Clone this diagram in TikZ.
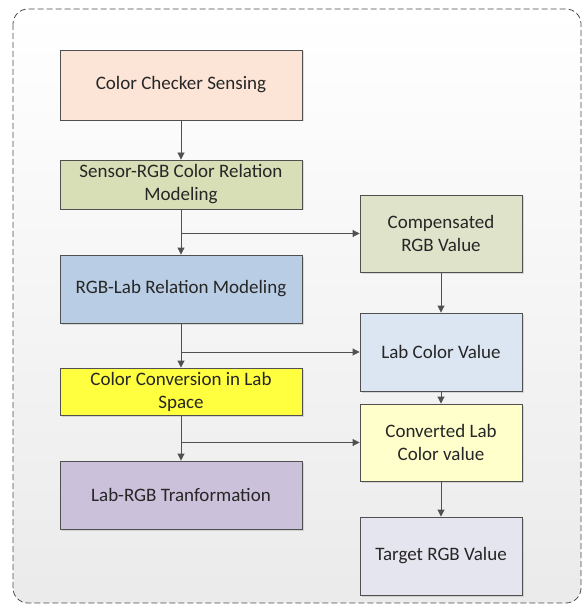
\documentclass[tikz,border=0pt]{standalone}
\usepackage{fontspec}
\setmainfont{Carlito}
\usetikzlibrary{arrows.meta,shadows,calc}
\definecolor{cA}{HTML}{FCE4D6}
\definecolor{cB}{HTML}{D8DFB6}
\definecolor{cC}{HTML}{B9CDE5}
\definecolor{cD}{HTML}{FFFF3F}
\definecolor{cE}{HTML}{CCC1DA}
\definecolor{rA}{HTML}{DFE3CA}
\definecolor{rB}{HTML}{DCE6F2}
\definecolor{rC}{HTML}{FFFFCC}
\definecolor{rD}{HTML}{E5E5F0}
\definecolor{edge}{HTML}{505050}
\tikzset{
  procbox/.style={draw=edge, line width=0.9pt, align=center, inner sep=2pt,
    font=\fontsize{19}{23}\selectfont, text=black!85,
    drop shadow={shadow xshift=1.5pt, shadow yshift=-1.5pt, opacity=0.25}},
  leftbox/.style={procbox, minimum width=242pt},
  rightbox/.style={procbox, minimum width=162pt},
  flow/.style={draw=edge, line width=0.9pt, -{Triangle[length=7pt,width=7pt]}}
}
\begin{document}
\begin{tikzpicture}[x=1pt,y=-1pt]
\useasboundingbox (0,0) rectangle (583,609);
\shade[top color=white, bottom color=black!8, rounded corners=15pt] (13,9) rectangle (581,603);
\draw[draw=black!70, line width=0.8pt, dash pattern=on 6pt off 3pt, rounded corners=15pt] (13,9) rectangle (581,603);

\node[leftbox, fill=cA, minimum height=70pt] (b1) at (181,85) {Color Checker Sensing};
\node[leftbox, fill=cB, minimum height=49pt] (b2) at (181,184.5) {Sensor-RGB Color Relation\\Modeling};
\node[leftbox, fill=cC, minimum height=68pt] (b3) at (181,289) {RGB-Lab Relation Modeling};
\node[leftbox, fill=cD, minimum height=47pt] (b4) at (181,391.5) {Color Conversion in Lab\\Space};
\node[leftbox, fill=cE, minimum height=68pt] (b5) at (181,495) {Lab-RGB Tranformation};

\node[rightbox, fill=rA, minimum height=77pt] (r1) at (441,233.5) {Compensated\\RGB Value};
\node[rightbox, fill=rB, minimum height=78pt] (r2) at (441,352) {Lab Color Value};
\node[rightbox, fill=rC, minimum height=77pt] (r3) at (441,442.5) {Converted Lab\\Color value};
\node[rightbox, fill=rD, minimum height=78pt] (r4) at (441,556) {Target RGB Value};

\coordinate (j1) at (b2.south |- r1.west);
\coordinate (j2) at (b3.south |- r2.west);
\coordinate (j3) at (b4.south |- r3.west);

\draw[flow] (b1) -- (b2);
\draw[flow] (b2) -- (b3);
\draw[flow] (b3) -- (b4);
\draw[flow] (b4) -- (b5);
\draw[flow] (j1) -- (r1.west);
\draw[flow] (j2) -- (r2.west);
\draw[flow] (j3) -- (r3.west);
\draw[flow] (r1) -- (r2);
\draw[flow] (r2) -- (r3);
\draw[flow] (r3) -- (r4);
\end{tikzpicture}
\end{document}
